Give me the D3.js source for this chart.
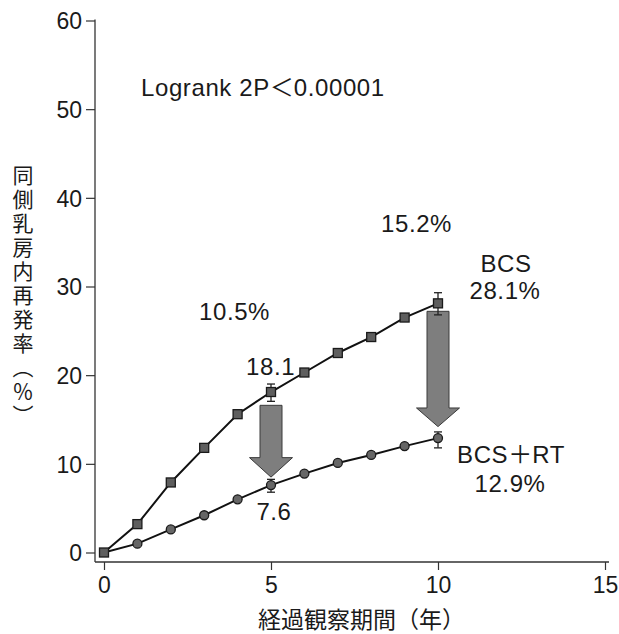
<!DOCTYPE html>
<html>
<head>
<meta charset="utf-8">
<script src="https://cdn.jsdelivr.net/npm/d3@7"></script>
<style>
  body { margin: 0; background: #fff; }
  text { font-family: "Liberation Sans", Arial, sans-serif; fill: #1a1a1a; }
  .jp { font-family: "Noto Sans CJK JP", sans-serif; }
</style>
</head>
<body>
<div id="chart"></div>
<script>
// data
var years = [0, 1, 2, 3, 4, 5, 6, 7, 8, 9, 10]
var bcs   = [0, 3.2, 7.9, 11.8, 15.6, 18.1, 20.3, 22.5, 24.3, 26.5, 28.1]
var bcsrt = [0, 1.0, 2.6, 4.2, 6.0, 7.6, 8.9, 10.1, 11.0, 12.0, 12.9]

// error bars [year, low, high]
var bcsErr   = [[5, 17.05, 19.0], [10, 26.8, 29.3]]
var bcsrtErr = [[5, 6.8, 8.25], [10, 11.8, 13.6]]

// arrows [year, top, neck, tip]
var arrows = [[5, 16.6, 10.7, 8.5], [10, 27.2, 16.3, 14.2]]

var xTicks = [0, 5, 10, 15]
var yTicks = [0, 10, 20, 30, 40, 50, 60]

var width = 619, height = 634

var x = d3.scaleLinear().domain([0, 15]).range([104, 605])
var y = d3.scaleLinear().domain([0, 60]).range([552.5, 20.5])

var axisX0 = 95    // y axis position
var axisY0 = 562   // x axis position

var svg = d3.select("#chart").append("svg")
    .attr("width", width)
    .attr("height", height)

// axes
var gy = svg.append("g")
    .attr("transform", "translate(" + axisX0 + ",0)")
    .call(d3.axisLeft(y).tickValues(yTicks).tickSize(9).tickPadding(4))
gy.select(".domain").remove()
gy.selectAll("text").style("font-size", "23px").attr("dy", "0.36em")

var gx = svg.append("g")
    .attr("transform", "translate(0," + axisY0 + ")")
    .call(d3.axisBottom(x).tickValues(xTicks).tickSize(8).tickPadding(7))
gx.select(".domain").remove()
gx.selectAll("text").style("font-size", "23px")

svg.selectAll(".tick line").style("stroke", "#333").style("stroke-width", 1.2)

svg.append("line")
    .attr("x1", axisX0).attr("x2", axisX0)
    .attr("y1", y(60) - 1).attr("y2", axisY0)
    .style("stroke", "#333").style("stroke-width", 1.3)
svg.append("line")
    .attr("x1", axisX0).attr("x2", 609)
    .attr("y1", axisY0).attr("y2", axisY0)
    .style("stroke", "#333").style("stroke-width", 1.3)

// axis titles
svg.append("text")
    .attr("class", "jp")
    .attr("x", 258).attr("y", 628)
    .style("font-size", "23px")
    .text("経過観察期間（年）")

svg.append("text")
    .attr("class", "jp")
    .attr("x", 23).attr("y", 165)
    .style("font-size", "21px")
    .style("writing-mode", "vertical-rl")
    .style("letter-spacing", "3px")
    .text("同側乳房内再発率（％）")

// arrows (drawn under the lines)
function arrowPath(a) {
  var cx = x(a[0]), sw = 11, hw = 21.5
  return "M" + (cx - sw) + "," + y(a[1]) +
         "L" + (cx + sw) + "," + y(a[1]) +
         "L" + (cx + sw) + "," + y(a[2]) +
         "L" + (cx + hw) + "," + y(a[2]) +
         "L" + cx + "," + y(a[3]) +
         "L" + (cx - hw) + "," + y(a[2]) +
         "L" + (cx - sw) + "," + y(a[2]) + "Z"
}
svg.selectAll(".arrow")
    .data(arrows).enter()
    .append("path")
    .attr("class", "arrow")
    .attr("d", arrowPath)
    .style("fill", "#7e7e7e")
    .style("stroke", "#3a3a3a")
    .style("stroke-width", 1)

// lines
var line = d3.line()
    .x(function(d, i) { return x(years[i]) })
    .y(function(d) { return y(d) })

svg.append("path").datum(bcs)
    .attr("d", line)
    .style("fill", "none").style("stroke", "#111").style("stroke-width", 2)
svg.append("path").datum(bcsrt)
    .attr("d", line)
    .style("fill", "none").style("stroke", "#111").style("stroke-width", 2)

// error bars
function errBars(data) {
  var g = svg.append("g").style("stroke", "#222").style("stroke-width", 1.3)
  g.selectAll(".v").data(data).enter().append("line")
      .attr("x1", function(d) { return x(d[0]) }).attr("x2", function(d) { return x(d[0]) })
      .attr("y1", function(d) { return y(d[1]) }).attr("y2", function(d) { return y(d[2]) })
  g.selectAll(".lo").data(data).enter().append("line")
      .attr("x1", function(d) { return x(d[0]) - 4 }).attr("x2", function(d) { return x(d[0]) + 4 })
      .attr("y1", function(d) { return y(d[1]) }).attr("y2", function(d) { return y(d[1]) })
  g.selectAll(".hi").data(data).enter().append("line")
      .attr("x1", function(d) { return x(d[0]) - 4 }).attr("x2", function(d) { return x(d[0]) + 4 })
      .attr("y1", function(d) { return y(d[2]) }).attr("y2", function(d) { return y(d[2]) })
}
errBars(bcsErr)
errBars(bcsrtErr)

// markers
svg.selectAll(".dot")
    .data(bcsrt.slice(1)).enter()
    .append("circle")
    .attr("cx", function(d, i) { return x(years[i + 1]) })
    .attr("cy", function(d) { return y(d) })
    .attr("r", 4.5)
    .style("fill", "#666").style("stroke", "#1a1a1a").style("stroke-width", 1.3)

svg.selectAll(".sq")
    .data(bcs).enter()
    .append("rect")
    .attr("x", function(d, i) { return x(years[i]) - 4.5 })
    .attr("y", function(d) { return y(d) - 4.5 })
    .attr("width", 9).attr("height", 9)
    .style("fill", "#5e5e5e").style("stroke", "#1a1a1a").style("stroke-width", 1.3)

// annotations; parts are [text, isCJK]
function label(parts, xp, yp, anchor) {
  var t = svg.append("text")
      .attr("x", xp).attr("y", yp)
      .attr("text-anchor", anchor || "start")
      .style("font-size", "24px")
      .style("letter-spacing", "0.6px")
  parts.forEach(function(p) {
    t.append("tspan").attr("class", p[1] ? "jp" : null)
        .style("letter-spacing", p[1] ? "0px" : null)
        .text(p[0])
  })
}
label([["Logrank 2P", 0], ["＜", 1], ["0.00001", 0]], 141, 96)
label([["10.5%", 0]], 199, 320)
label([["18.1", 0]], 246, 375)
label([["15.2%", 0]], 381, 232)
label([["BCS", 0]], 506, 272, "middle")
label([["28.1%", 0]], 505, 299, "middle")
label([["7.6", 0]], 274, 520, "middle")
label([["BCS", 0], ["＋", 1], ["RT", 0]], 511, 463, "middle")
label([["12.9%", 0]], 510, 491.5, "middle")
</script>
</body>
</html>
